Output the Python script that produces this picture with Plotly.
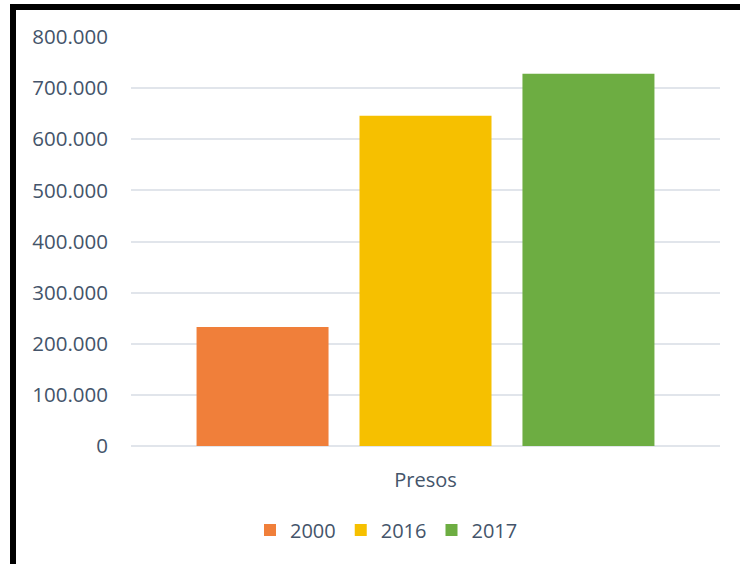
import plotly.graph_objects as go

categories = ["Presos"]
series_names = ["2000", "2016", "2017"]
values_2000 = [232755]
values_2016 = [645800]
values_2017 = [728000]
series_colors = ["#F07F3A", "#F6C000", "#6DAD42"]
tick_vals = [0, 100000, 200000, 300000, 400000, 500000, 600000, 700000, 800000]
tick_text = ["0", "100.000", "200.000", "300.000", "400.000", "500.000", "600.000", "700.000", "800.000"]

text_color = "#44546A"
font_family = "Open Sans"

fig = go.Figure()
for name, vals, col in zip(series_names, [values_2000, values_2016, values_2017], series_colors):
    fig.add_trace(go.Bar(x=categories, y=vals, name=name, marker=dict(color=col, line=dict(width=0))))

W, H = 740, 564
L, R, T, B = 131, 20, 37, 118
pw, ph = W - L - R, H - T - B

def px_x(x):
    return (x - L) / pw

def px_y(y):
    return (H - B - y) / ph

fig.update_layout(
    width=W, height=H,
    margin=dict(l=L, r=R, t=T, b=B, pad=0),
    paper_bgcolor="white", plot_bgcolor="white",
    barmode="group", bargap=0.17, bargroupgap=0.19,
    font=dict(family=font_family, size=20, color=text_color),
    showlegend=True,
    legend=dict(orientation="h", x=px_x(250), xanchor="left", y=px_y(530), yanchor="middle",
                font=dict(size=20, color=text_color), itemwidth=30, tracegroupgap=0,
                bgcolor="rgba(0,0,0,0)"),
    xaxis=dict(showgrid=False, showline=False, ticks="", ticklabelstandoff=20,
               tickfont=dict(size=20, color=text_color)),
    yaxis=dict(range=[0, 800000], tickvals=tick_vals, ticktext=tick_text,
               showgrid=True, gridcolor="#E1E5EB", gridwidth=2,
               zeroline=True, zerolinecolor="#E1E5EB", zerolinewidth=2,
               showline=False, ticks="", ticklabelstandoff=22,
               tickfont=dict(size=20.5, color=text_color)),
    shapes=[dict(type="rect", xref="paper", yref="paper",
                 x0=px_x(13), x1=px_x(770), y0=px_y(600), y1=px_y(7),
                 line=dict(color="black", width=6), fillcolor="rgba(0,0,0,0)", layer="above")],
)

fig.write_html("out.html", config={"displayModeBar": False},
               post_script="document.body.style.margin='0';document.body.style.overflow='hidden';")
